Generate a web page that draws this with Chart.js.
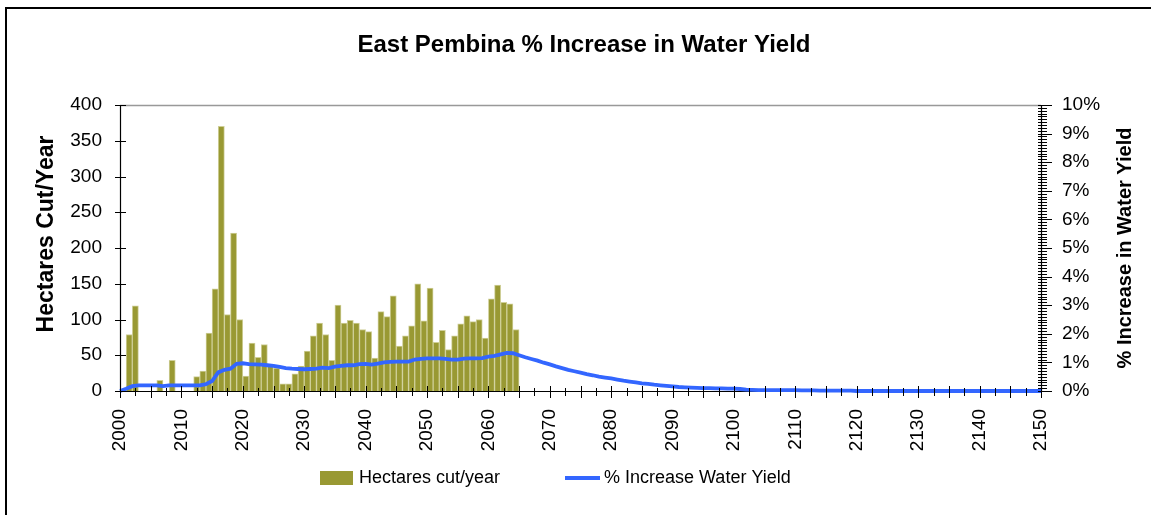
<!DOCTYPE html>
<html>
<head>
<meta charset="utf-8">
<script src="https://cdn.jsdelivr.net/npm/chart.js@4.4.0/dist/chart.umd.min.js"></script>
<style>
  html, body { margin: 0; padding: 0; background: #fff; overflow: hidden; }
  #wrap { position: relative; width: 1151px; height: 515px; }
  #grafico { position: absolute; left: 0; top: 0; }
  #moldura { position: absolute; left: 5px; top: 7px; width: 1200px; height: 600px; border: 2px solid #000; box-sizing: border-box; pointer-events: none; }
</style>
</head>
<body>
<div id="wrap">
  <canvas id="grafico" width="1151" height="515" style="width:1151px;height:515px"></canvas>
  <div id="moldura"></div>
</div>
<script>
var firstYear = 2000;

// hectares cut per year, 2000 .. 2064
var hectares_cut = [
  0, 79, 119, 0, 0, 0, 15, 0, 43, 0,
  0, 0, 20, 28, 81, 143, 370, 107, 221, 100,
  21, 67, 47, 65, 35, 32, 10, 10, 24, 35,
  56, 77, 95, 79, 43, 120, 95, 99, 95, 86,
  83, 46, 111, 104, 133, 63, 77, 91, 150, 98,
  144, 68, 85, 58, 77, 94, 105, 97, 100, 74,
  129, 148, 124, 122, 86
];

// % increase in water yield, 2000 .. 2150
var water_yield = [
  0, 0.08, 0.17, 0.2, 0.2, 0.2, 0.2, 0.17, 0.2, 0.2,
  0.2, 0.2, 0.2, 0.2, 0.24, 0.35, 0.65, 0.74, 0.78, 0.95,
  0.97, 0.94, 0.93, 0.92, 0.9, 0.88, 0.84, 0.8, 0.78, 0.77,
  0.76, 0.77, 0.78, 0.82, 0.8, 0.85, 0.88, 0.9, 0.9, 0.94,
  0.95, 0.92, 0.96, 1.0, 1.02, 1.03, 1.03, 1.03, 1.1, 1.12,
  1.14, 1.14, 1.14, 1.12, 1.1, 1.1, 1.13, 1.14, 1.14, 1.15,
  1.2, 1.23, 1.28, 1.33, 1.32, 1.25, 1.18, 1.12, 1.06, 0.99,
  0.93, 0.86, 0.8, 0.74, 0.69, 0.64, 0.59, 0.55, 0.5, 0.47,
  0.44, 0.4, 0.36, 0.33, 0.3, 0.27, 0.25, 0.22, 0.2, 0.18,
  0.16, 0.14, 0.13, 0.12, 0.11, 0.1, 0.1, 0.09, 0.09, 0.08,
  0.08, 0.07, 0.05, 0.04, 0.03, 0.03, 0.03, 0.03, 0.03, 0.03,
  0.03, 0.02, 0.02, 0.02, 0.01, 0.01, 0.01, 0.01, 0.01, 0.01,
  0, 0, 0, 0, 0, 0, 0, 0, 0, 0,
  0, 0, 0, 0, 0, 0, 0, 0, 0, 0,
  0, 0, 0, 0, 0, 0, 0, 0, 0, 0,
  0
];

var cor_barra = "#999933";
var cor_linha = "#3366ff";

// bars fill their whole year, line points sit on the year itself
var pontos_barra = hectares_cut.map(function (v, i) {
  return { x: firstYear + i + 0.5, y: v };
});
var pontos_linha = water_yield.map(function (v, i) {
  return { x: firstYear + i, y: v };
});

Chart.defaults.font.family = "'Liberation Sans', Arial, sans-serif";
Chart.defaults.color = "#000";

function linha(ctx, x1, y1, x2, y2) {
  ctx.beginPath();
  ctx.moveTo(x1, y1);
  ctx.lineTo(x2, y2);
  ctx.stroke();
}

// vertical text reading bottom to top
function textoVertical(ctx, texto, x, y, tamanho) {
  ctx.save();
  ctx.translate(x, y);
  ctx.rotate(-Math.PI / 2);
  ctx.font = "bold " + tamanho + "px 'Liberation Sans', Arial, sans-serif";
  ctx.fillStyle = "#000";
  ctx.textAlign = "center";
  ctx.textBaseline = "middle";
  ctx.fillText(texto, 0, 0);
  ctx.restore();
}

// axis lines, crossing tick marks, axis titles and legend
var eixos = {
  id: "eixos",
  beforeDatasetsDraw: function (chart) {
    var ctx = chart.ctx;
    var a = chart.chartArea;
    ctx.save();
    ctx.strokeStyle = "#999";
    ctx.lineWidth = 1.5;
    linha(ctx, a.left, a.top + 0.5, a.right, a.top + 0.5);
    ctx.strokeStyle = "#000";
    ctx.lineWidth = 1.2;
    linha(ctx, a.left + 0.5, a.top, a.left + 0.5, a.bottom);
    linha(ctx, a.right + 0.5, a.top, a.right + 0.5, a.bottom);
    linha(ctx, a.left, a.bottom + 0.5, a.right, a.bottom + 0.5);
    ctx.restore();
  },
  afterDatasetsDraw: function (chart) {
    var ctx = chart.ctx;
    var a = chart.chartArea;
    var sx = chart.scales.x;
    var sy = chart.scales.y;
    var sy2 = chart.scales.y2;
    ctx.save();
    ctx.strokeStyle = "#000";
    ctx.lineWidth = 1;
    for (var v = 0; v <= 400; v += 50) {
      var py = Math.round(sy.getPixelForValue(v)) + 0.5;
      linha(ctx, a.left - 5, py, a.left + 6, py);
    }
    for (var i = 0; i <= 100; i++) {
      var py2 = Math.round(sy2.getPixelForValue(i / 10)) + 0.5;
      if (i % 10 == 0) {
        linha(ctx, a.right - 3, py2, a.right + 11, py2);
      } else {
        linha(ctx, a.right - 3, py2, a.right + 6, py2);
      }
    }
    for (var ano = 2000; ano <= 2150; ano += 2.5) {
      var px = Math.round(sx.getPixelForValue(ano)) + 0.5;
      if (ano % 5 == 0) {
        linha(ctx, px, a.bottom - 5, px, a.bottom + 7);
      } else {
        linha(ctx, px, a.bottom - 3, px, a.bottom + 5);
      }
    }
    ctx.restore();
  },
  afterDraw: function (chart) {
    var ctx = chart.ctx;
    var a = chart.chartArea;
    var ds = chart.data.datasets;
    textoVertical(ctx, "Hectares Cut/Year", 47, 234, 23);
    textoVertical(ctx, "% Increase in Water Yield", 1125, (a.top + a.bottom) / 2, 20);

    ctx.save();
    ctx.font = "18px 'Liberation Sans', Arial, sans-serif";
    ctx.textBaseline = "middle";
    ctx.textAlign = "left";
    ctx.fillStyle = cor_barra;
    ctx.fillRect(320, 471, 33, 14);
    ctx.fillStyle = "#000";
    ctx.fillText(ds[1].label, 359, 478);
    ctx.strokeStyle = cor_linha;
    ctx.lineWidth = 4;
    linha(ctx, 565, 478, 600, 478);
    ctx.fillText(ds[0].label, 604, 478);
    ctx.restore();
  }
};

var ctx = document.getElementById("grafico");
var grafico = new Chart(ctx, {
  type: "bar",
  data: {
    datasets: [
      {
        type: "line",
        label: "% Increase Water Yield",
        data: pontos_linha,
        yAxisID: "y2",
        borderColor: cor_linha,
        borderWidth: 3.8,
        pointRadius: 0,
        tension: 0,
        clip: false,
        order: 0,
      },
      {
        label: "Hectares cut/year",
        data: pontos_barra,
        yAxisID: "y",
        backgroundColor: cor_barra,
        borderColor: "#cfcf98",
        borderWidth: 1,
        barPercentage: 1,
        categoryPercentage: 1,
        order: 1,
      },
    ],
  },
  options: {
    responsive: false,
    animation: false,
    events: [],
    layout: { padding: { left: 17, right: 0, top: 0, bottom: 0 } },
    plugins: {
      legend: { display: false },
      tooltip: { enabled: false },
      title: {
        display: true,
        text: "East Pembina % Increase in Water Yield",
        font: { size: 24, weight: "bold" },
        color: "#000",
        padding: { top: 31, bottom: 45.2 },
      },
    },
    scales: {
      x: {
        type: "linear",
        min: 2000,
        max: 2150,
        offset: false,
        grid: { display: false, drawTicks: false },
        border: { display: false },
        ticks: {
          stepSize: 10,
          autoSkip: false,
          minRotation: 90,
          maxRotation: 90,
          padding: 18,
          font: { size: 19 },
          color: "#000",
          callback: function (v) { return String(v); },
        },
        afterFit: function (s) { s.height = 124; },
      },
      y: {
        position: "left",
        min: 0,
        max: 400,
        grid: { display: false, drawTicks: false },
        border: { display: false },
        ticks: { stepSize: 50, padding: 18, font: { size: 19 }, color: "#000" },
        afterFit: function (s) { s.width = 103; },
      },
      y2: {
        position: "right",
        min: 0,
        max: 10,
        grid: { display: false, drawTicks: false },
        border: { display: false },
        ticks: {
          stepSize: 1,
          padding: 21,
          font: { size: 19 },
          color: "#000",
          callback: function (v) { return v + "%"; },
        },
        afterFit: function (s) { s.width = 110; },
      },
    },
  },
  plugins: [eixos],
});
</script>
</body>
</html>
